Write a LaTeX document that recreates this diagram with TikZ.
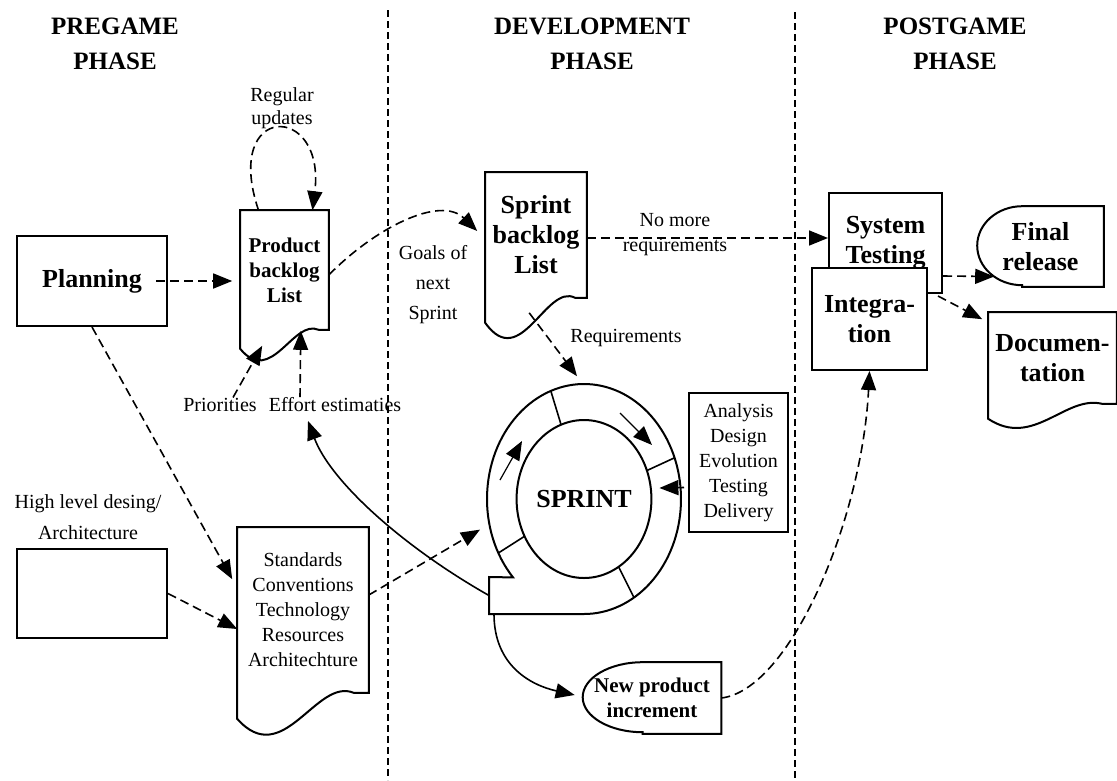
\documentclass[tikz,border=0pt]{standalone}
\usepackage{fontspec}
\setmainfont{Liberation Serif}
\usetikzlibrary{arrows.meta, calc, shapes.geometric}

% document outline with wavy bottom, #2 = drop of the left corner
\newcommand{\docframe}[2]{%
  \draw[shape line] (#1.north west) -- (#1.north east) -- (#1.south east)
    -- ($(#1.south west)!0.885!(#1.south east)$)
    .. controls ($(#1.south west)!0.6!(#1.south east)+(0,-0.6*#2)$)
           and ($(#1.south west)!0.35!(#1.south east)+(0,3*#2)$)
    .. ($(#1.south west)+(0,#2)$) -- cycle;}

% outline with a rounded left side, #2 = x radius, #3 = y radius
\newcommand{\termframe}[3]{%
  \draw[shape line] ($(#1.south west)+(#2,0)$) -- (#1.south east) -- (#1.north east)
    -- ($(#1.north west)+(#2,0)$)
    arc[start angle=270, end angle=90, x radius=#2, y radius=#3] -- cycle;}

\begin{document}
\begin{tikzpicture}[
  x=1pt, y=-1pt,
  > = {Triangle[length=19pt, width=15pt]},
  line width=1.6pt,
  shape line/.style={line width=2pt},
  box/.style={draw, line width=2pt, align=center, inner sep=0pt},
  plain/.style={align=center, inner sep=0pt},
  txt/.style={font=\fontsize{20}{25}\selectfont, align=center, inner sep=0pt},
  bigb/.style={font=\fontsize{26}{30}\selectfont\bfseries, align=center},
  smb/.style={font=\fontsize{21}{25}\selectfont\bfseries, align=center},
  head/.style={font=\fontsize{25}{35}\selectfont\bfseries, align=center},
  dasharr/.style={->, dash pattern=on 9pt off 5pt},
  solarr/.style={->},
  phase/.style={dash pattern=on 7pt off 4pt, line width=1.2pt}
]
  \useasboundingbox (0,0) rectangle (1117,780);

  % phases
  \node[head] (pre)  at (115,44) {PREGAME\\PHASE};
  \node[head] (dev)  at (592,44) {DEVELOPMENT\\PHASE};
  \node[head] (post) at (955,44) {POSTGAME\\PHASE};
  \draw[phase] (388,10) -- (388,780);
  \draw[phase] (795,12) -- (795,780);

  % pregame
  \node[box, bigb, minimum width=150pt, minimum height=90pt] (plan) at (92,281) {Planning};
  \node[plain, smb, minimum width=87pt, minimum height=118pt] (pbl) at (284.5,270) {Product\\backlog\\List};
  \docframe{pbl}{19}
  \node[txt, font=\fontsize{20}{23}\selectfont] (upd) at (282,108) {Regular\\updates};
  \node[txt] (prio)   at (220,405) {Priorities};
  \node[txt] (effort) at (335,405) {Effort estimaties};
  \node[txt, font=\fontsize{20}{31}\selectfont] (hldlbl) at (88,517) {High level desing/\\Architecture};
  \node[box, minimum width=150pt, minimum height=89pt] (hld) at (92,593.5) {};
  \node[plain, txt, minimum width=130pt, minimum height=164pt] (stds) at (303,610)
    {Standards\\Conventions\\Technology\\Resources\\Architechture};
  \docframe{stds}{26}

  % development
  \node[plain, bigb, minimum width=100pt, minimum height=124pt] (sbl) at (536,235) {Sprint\\backlog\\List};
  \docframe{sbl}{25}
  \node[txt, font=\fontsize{20}{30}\selectfont] (goals) at (433,285) {Goals of\\next\\Sprint};
  \node[txt] (nomore) at (675,235) {No more\\requirements};
  \node[txt] (req) at (626,338) {Requirements};

  \coordinate (ringc)   at (584,499);
  \coordinate (tailtop) at (489,577);
  \coordinate (tailbot) at (489,614);
  \draw[shape line] ($(ringc)+({97*cos(137)},{115*sin(137)})$)
    arc[start angle=137, end angle=450, x radius=97, y radius=115]
    -- (tailbot) -- (tailtop) -- cycle;
  \node[ellipse, minimum width=194pt, minimum height=230pt, inner sep=0pt] (ring) at (ringc) {};
  \node[ellipse, draw, line width=2pt, bigb, minimum width=134pt, minimum height=158pt, inner sep=0pt]
    (sprint) at (ringc) {SPRINT};
  \foreach \a in {-110,-21,59,152}
    \draw ($(ringc)+({67*cos(\a)},{79*sin(\a)})$) -- ($(ringc)+({97*cos(\a)},{115*sin(\a)})$);
  \draw[solarr, line width=1.2pt] ($(ringc)+(-84,-19)$) -- ($(ringc)+(-62,-58)$);
  \draw[solarr, line width=1.2pt] ($(ringc)+(36,-86)$) -- ($(ringc)+(68,-54)$);

  \node[box, txt, minimum width=99pt, minimum height=139pt] (ana) at (738.5,462.5)
    {Analysis\\Design\\Evolution\\Testing\\Delivery};
  \node[plain, smb, minimum width=137pt, minimum height=70pt] (npi) at (652,698) {New product\\increment};
  \termframe{npi}{60}{35}

  % postgame
  \node[box, bigb, minimum width=113pt, minimum height=100pt] (sys) at (885.5,243) {System\\Testing};
  \node[box, bigb, fill=white, minimum width=115pt, minimum height=102pt] (integ) at (869.5,319) {Integra-\\tion};
  \node[plain, bigb, minimum width=125pt, minimum height=79pt] (fin) at (1040.5,246.5) {Final\\release};
  \termframe{fin}{45}{39.5}
  \node[plain, bigb, minimum width=127pt, minimum height=90pt] (docu) at (1052.5,358) {Documen-\\tation};
  \docframe{docu}{15}

  % connectors
  \draw[dasharr] ([xshift=-12pt]plan.east) -- ([xshift=-8pt]plan.east -| pbl.west);
  \draw[dasharr] ([xshift=-26pt]pbl.north) .. controls (222,102) and (326,102) .. ([xshift=28pt]pbl.north);
  \draw[dasharr] ([yshift=-5pt]pbl.east) .. controls (375,228) and (440,195) .. ([xshift=-8pt,yshift=4pt]sbl.west);
  \draw[dasharr] ([xshift=13pt]prio.north) -- ($(pbl.south west)+(22,16)$);
  \draw[dasharr] ([xshift=-35pt]effort.north) -- ($(pbl.south east)+(-28,1)$);
  \draw[dasharr] (plan.south) -- ($(stds.north west)+(-5,52)$);
  \draw[dasharr] (hld.east) -- ($(stds.west)+(0,19)$);
  \draw[dasharr, shorten >=10pt] ([yshift=15pt]stds.east) -- (ring.195);
  \draw[dasharr] ($(sbl.south west)+(44,15)$) -- ([xshift=-7pt,yshift=7pt]ring.north);
  \draw[dasharr] ([yshift=-3pt]sbl.east) -- ($(sys.west)+(0,-5)$);
  \draw[solarr] ([xshift=-4pt,yshift=-25pt]ana.west) -- ($(sprint.east)+(7,-11)$);
  \draw[solarr] ($(tailtop)!0.5!(tailbot)$) .. controls (400,545) and (330,480) .. ($(effort.south)+(-27,8)$);
  \draw[solarr] ($(tailbot)+(5,0)$) .. controls (494,665) and (530,685) .. ([xshift=-8pt,yshift=3pt]npi.west);
  \draw[dasharr] (npi.east) .. controls (790,690) and (862,520) .. (integ.south);
  \draw[dasharr] ([yshift=-33pt]sys.east) -- ($(fin.west)+(17,30)$);
  \draw[dasharr] ($(sys.south east)+(-5,2)$) -- ($(docu.north west)+(-6,7)$);
\end{tikzpicture}
\end{document}
